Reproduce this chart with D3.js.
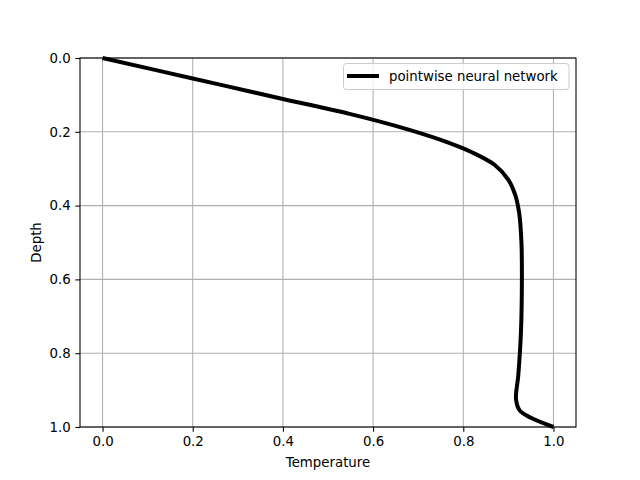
<!DOCTYPE html>
<html><head><meta charset="utf-8">
<script src="https://cdn.jsdelivr.net/npm/d3@7"></script>
<style>body{margin:0;background:#fff}svg{display:block}text{font-family:"DejaVu Sans",sans-serif}</style>
</head><body>
<script>
const temperature = [0, 0.2, 0.4, 0.55, 0.65, 0.75, 0.82, 0.87, 0.90, 0.915, 0.924, 0.929, 0.93, 0.928, 0.922, 0.917, 0.925, 0.95, 1.0];
const depth       = [0, 0.0555, 0.111, 0.152, 0.184, 0.222, 0.256, 0.29, 0.33, 0.37, 0.42, 0.5, 0.6, 0.74, 0.86, 0.925, 0.955, 0.975, 1.0];
const xTicks = [0.0, 0.2, 0.4, 0.6, 0.8, 1.0];
const yTicks = [0.0, 0.2, 0.4, 0.6, 0.8, 1.0];
const seriesName = "pointwise neural network";

const W = 640, H = 480;
const m = {left: 80, right: 64, top: 58, bottom: 53};
const svg = d3.select("body").append("svg").attr("width", W).attr("height", H);
const x = d3.scaleLinear().domain([-0.05, 1.05]).range([m.left, W - m.right]);
const y = d3.scaleLinear().domain([0, 1]).range([m.top, H - m.bottom]);

// grid
const g = svg.append("g");
g.selectAll(".gx").data(xTicks).join("line")
  .attr("x1", d => x(d)).attr("x2", d => x(d)).attr("y1", y(0)).attr("y2", y(1))
  .attr("stroke", "#b0b0b0").attr("stroke-width", 1.07);
g.selectAll(".gy").data(yTicks).join("line")
  .attr("y1", d => y(d)).attr("y2", d => y(d)).attr("x1", x.range()[0]).attr("x2", x.range()[1])
  .attr("stroke", "#b0b0b0").attr("stroke-width", 1.07);

// line
const pts = temperature.map((t, i) => [t, depth[i]]);
svg.append("clipPath").attr("id", "clip").append("rect")
  .attr("x", x.range()[0]).attr("y", y(0) - 2).attr("width", x.range()[1] - x.range()[0]).attr("height", y(1) - y(0) + 4);
svg.append("path").datum(pts)
  .attr("d", d3.line().x(d => x(d[0])).y(d => y(d[1])).curve(d3.curveCatmullRom.alpha(0.5)))
  .attr("fill", "none").attr("stroke", "#000").attr("stroke-width", 4)
  .attr("stroke-linejoin", "round").attr("stroke-linecap", "butt")
  .attr("clip-path", "url(#clip)");

// axes
const xAxis = d3.axisBottom(x).tickValues(xTicks).tickFormat(d3.format(".1f")).tickSizeOuter(0).tickSize(4.67).tickPadding(4.67);
const yAxis = d3.axisLeft(y).tickValues(yTicks).tickFormat(d3.format(".1f")).tickSizeOuter(0).tickSize(4.67).tickPadding(4.67);
const ax = svg.append("g").attr("transform", `translate(0,${y(1)})`).call(xAxis);
const ay = svg.append("g").attr("transform", `translate(${x.range()[0]},0)`).call(yAxis);
[ax, ay].forEach(a => {
  a.select(".domain").remove();
  a.selectAll("line").attr("stroke", "#000").attr("stroke-width", 1.07);
  a.selectAll("text").attr("font-size", 13.33).attr("fill", "#000").attr("font-family", "DejaVu Sans");
});

// frame
svg.append("rect").attr("x", x.range()[0]).attr("y", y(0))
  .attr("width", x.range()[1] - x.range()[0]).attr("height", y(1) - y(0))
  .attr("fill", "none").attr("stroke", "#000").attr("stroke-width", 1.07);

// labels
svg.append("text").attr("x", (x.range()[0] + x.range()[1]) / 2).attr("y", 467)
  .attr("text-anchor", "middle").attr("font-size", 13.33).text("Temperature");
svg.append("text").attr("transform", `translate(41,${(y(0) + y(1)) / 2}) rotate(-90)`)
  .attr("text-anchor", "middle").attr("font-size", 13.33).text("Depth");

// legend
const lg = svg.append("g");
lg.append("rect").attr("x", 343.5).attr("y", 63.5).attr("width", 225.5).attr("height", 26)
  .attr("rx", 3).attr("fill", "#fff").attr("fill-opacity", 0.8).attr("stroke", "#cccccc").attr("stroke-width", 1);
lg.append("line").attr("x1", 347).attr("x2", 379).attr("y1", 76).attr("y2", 76)
  .attr("stroke", "#000").attr("stroke-width", 4);
lg.append("text").attr("x", 389).attr("y", 81).attr("font-size", 13.33).text(seriesName);
</script>
</body></html>
